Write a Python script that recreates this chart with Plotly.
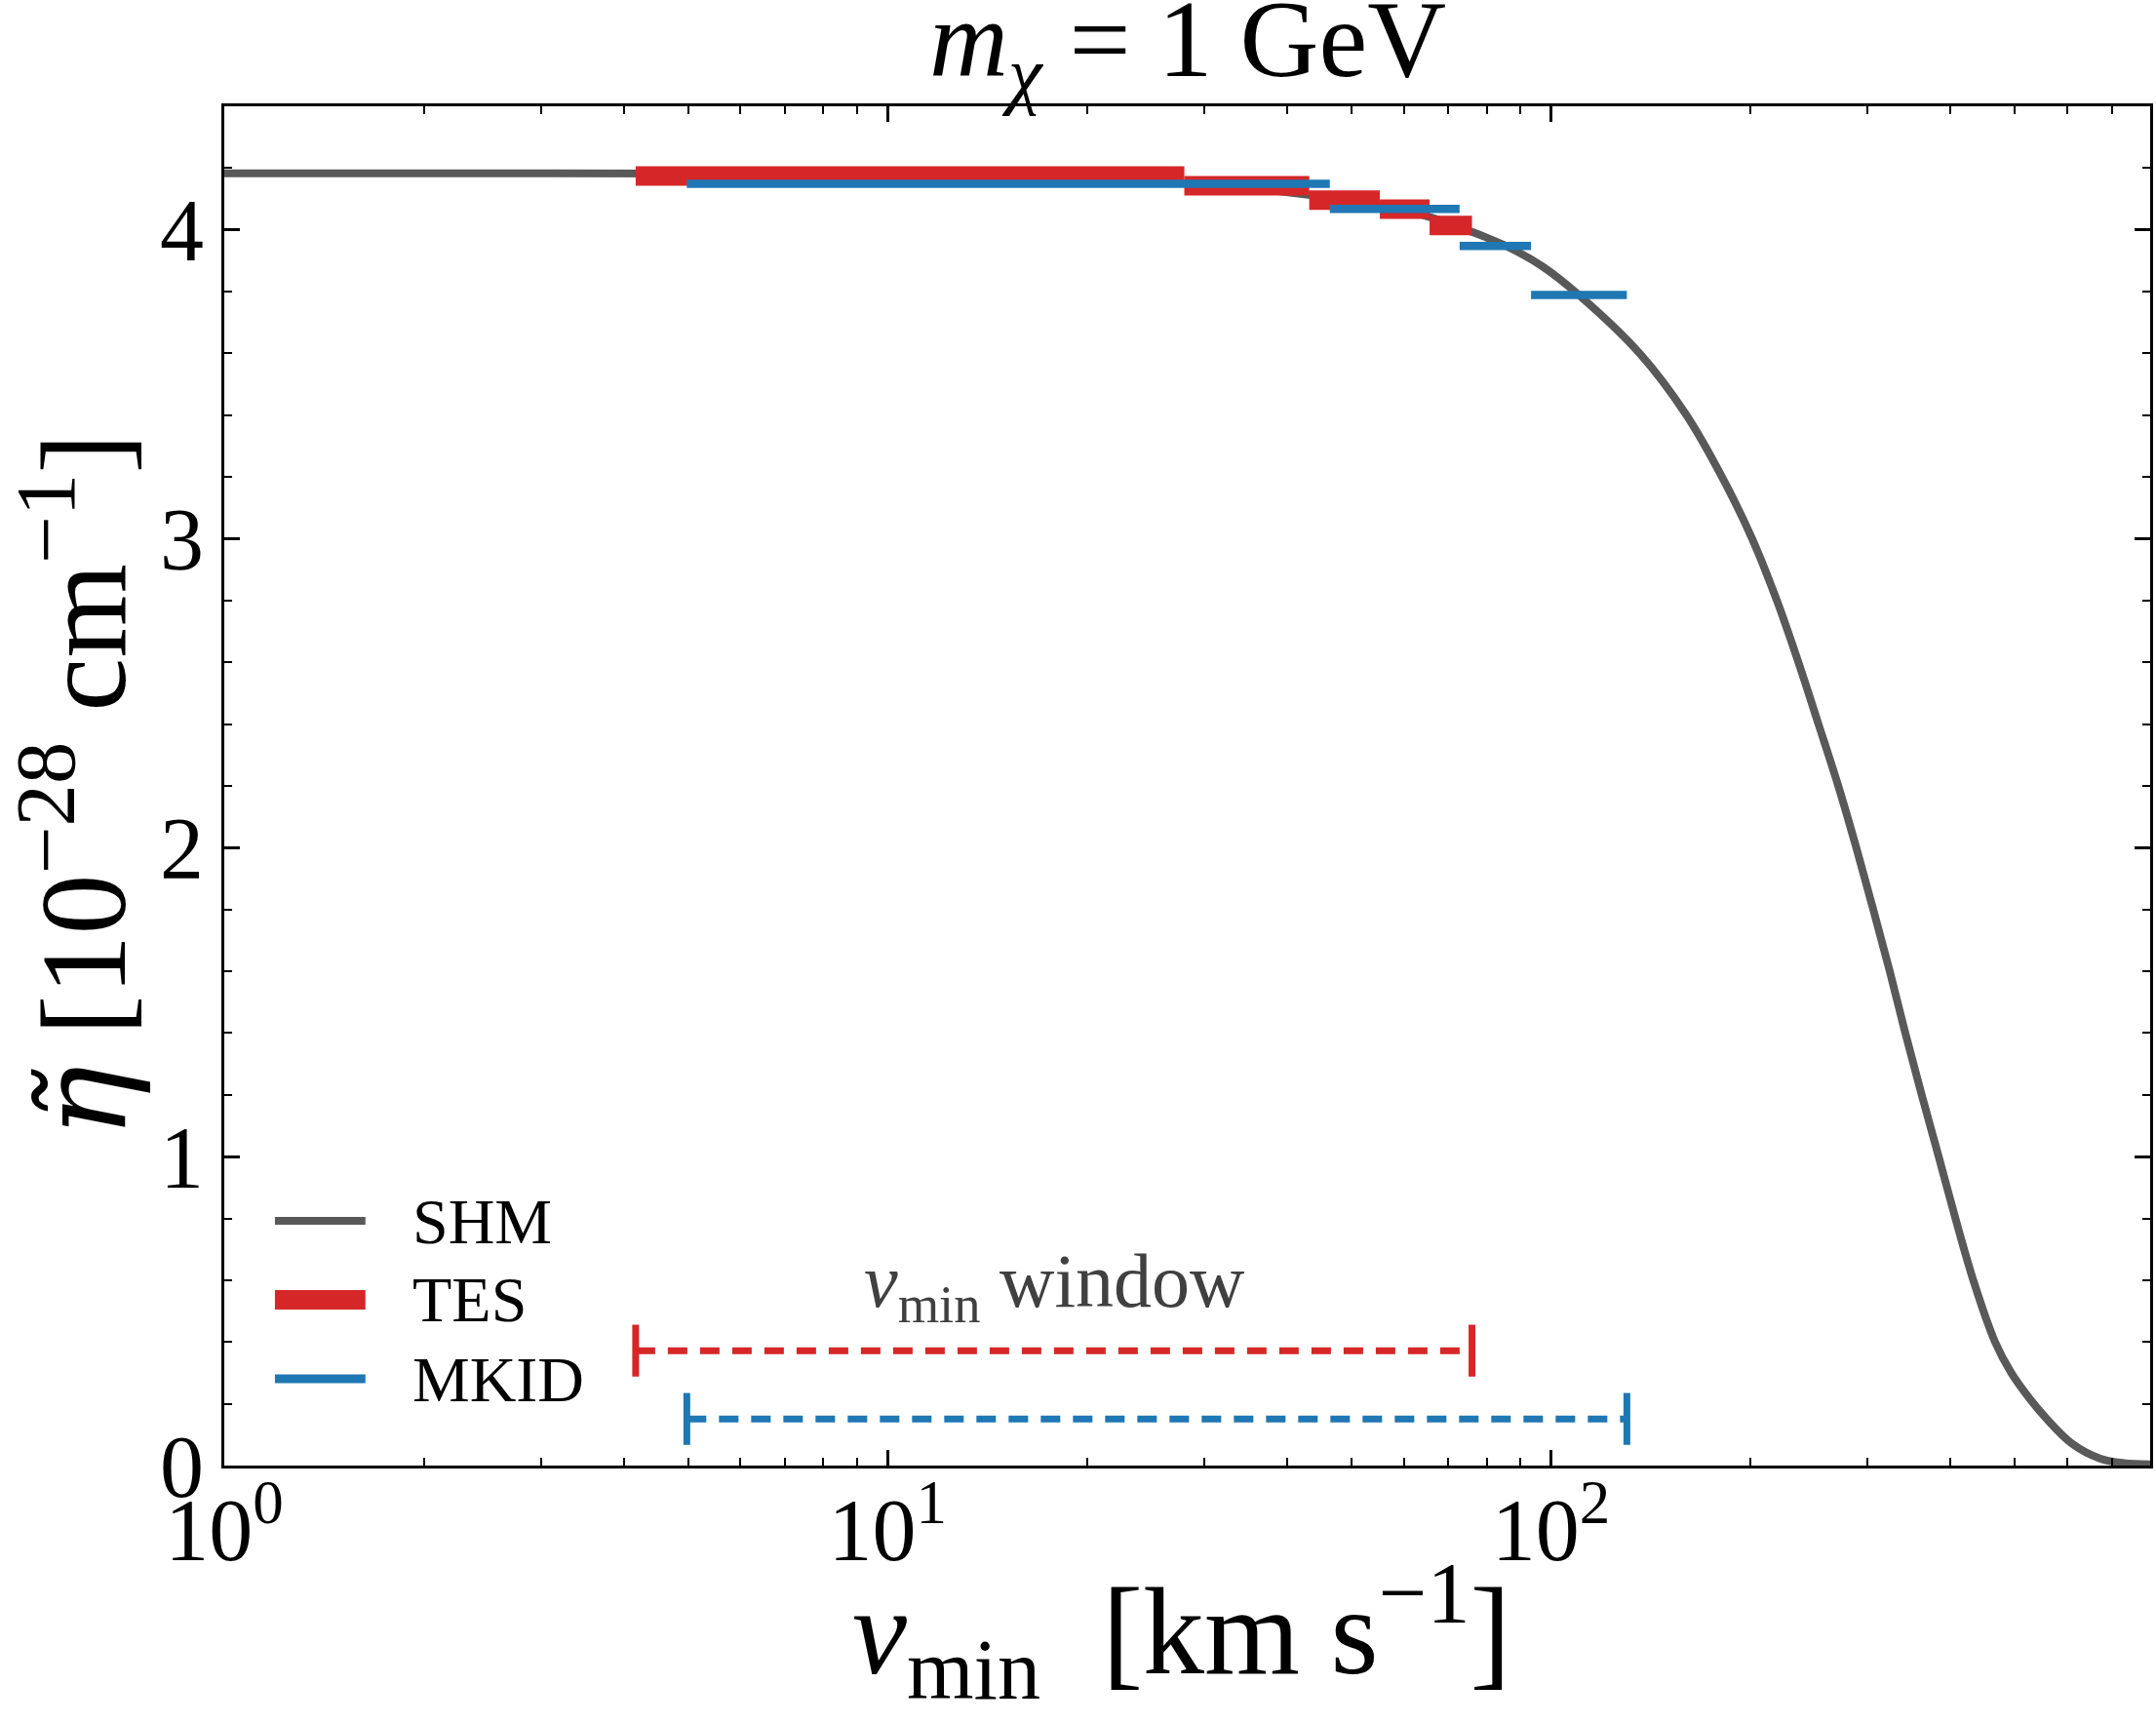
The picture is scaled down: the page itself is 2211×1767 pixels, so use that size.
import numpy as np
import plotly.graph_objects as go

# ---------------- data ----------------
shm_v = [1, 2, 5, 10, 15, 20, 30, 44, 55, 66, 75.2, 85.5, 97, 110, 136,
         160, 181, 201, 219, 236, 253, 271, 288.5, 306, 324, 342, 362, 384,
         407, 433, 467, 494, 525, 556, 610, 672, 730, 800]
shm_eta = [4.183, 4.183, 4.182, 4.179, 4.174, 4.166, 4.147, 4.111, 4.080, 4.040,
           3.997, 3.948, 3.882, 3.790, 3.600, 3.400, 3.200, 3.000, 2.800, 2.600,
           2.400, 2.200, 2.000, 1.800, 1.600, 1.400, 1.200, 1.000, 0.800, 0.600,
           0.400, 0.300, 0.220, 0.156, 0.071, 0.023, 0.008, 0.004]

tes_edges = [4.17, 28.0, 43.2, 55.2, 65.6, 76.0]
tes_eta = [4.174, 4.143, 4.096, 4.067, 4.014]

mkid_edges = [4.98, 46.4, 72.8, 93.3, 130.1]
mkid_eta = [4.149, 4.068, 3.948, 3.789]

tes_window = [4.17, 76.0]
mkid_window = [4.98, 130.1]
tes_window_level = 0.372
mkid_window_level = 0.151

x_tickvals = [1, 10, 100]
x_ticktext = ["10<sup>0</sup>", "10<sup>1</sup>", "10<sup>2</sup>"]
x_minor = [m * d for d in (1, 10, 100) for m in range(2, 10) if m * d <= 800]
y_tickvals = [0, 1, 2, 3, 4]
y_ticktext = ["0", "1", "2", "3", "4"]

legend_names = ["SHM", "TES", "MKID"]

# ---------------- style ----------------
FONT = "Liberation Serif"
GRAY = "#595959"
RED = "#d62728"
BLUE = "#1f77b4"


def steps(edges, vals):
    xs, ys = [], []
    for i, v in enumerate(vals):
        xs += [edges[i], edges[i + 1], None]
        ys += [v, v, None]
    return xs, ys


fig = go.Figure()

fig.add_trace(go.Scatter(x=shm_v, y=shm_eta, mode="lines",
                         line=dict(color=GRAY, width=8, shape="spline", smoothing=1.0),
                         name="SHM", showlegend=False, hoverinfo="skip"))

tx, ty = steps(tes_edges, tes_eta)
fig.add_trace(go.Scatter(x=tx, y=ty, mode="lines", line=dict(color=RED, width=20),
                         name="TES", showlegend=False, hoverinfo="skip"))
mx, my = steps(mkid_edges, mkid_eta)
fig.add_trace(go.Scatter(x=mx, y=my, mode="lines", line=dict(color=BLUE, width=8.5),
                         name="MKID", showlegend=False, hoverinfo="skip"))

for win, lvl, col in ((tes_window, tes_window_level, RED),
                      (mkid_window, mkid_window_level, BLUE)):
    fig.add_trace(go.Scatter(x=win, y=[lvl, lvl], mode="lines",
                             line=dict(color=col, width=7, dash="20px,13px"),
                             showlegend=False, hoverinfo="skip"))
    fig.add_trace(go.Scatter(x=win, y=[lvl, lvl], mode="markers",
                             marker=dict(symbol="line-ns", size=38, color=col,
                                         line=dict(color=col, width=7)),
                             showlegend=False, hoverinfo="skip"))

axis_common = dict(showline=True, linecolor="black", linewidth=3, mirror="allticks",
                   ticks="inside", tickcolor="black", tickwidth=2.5, ticklen=16,
                   showgrid=False, zeroline=False,
                   tickfont=dict(family=FONT, size=90, color="black"))

fig.update_layout(
    width=2211, height=1767,
    margin=dict(l=230, r=3, t=109, b=264),
    paper_bgcolor="white", plot_bgcolor="white",
    showlegend=False,
    xaxis=dict(type="log", range=[0, np.log10(800)], tickvals=x_tickvals, ticktext=x_ticktext,
               ticklabelstandoff=-14,
               minor=dict(tickvals=x_minor, ticks="inside", ticklen=8, tickwidth=2,
                          tickcolor="black", showgrid=False),
               **axis_common),
    yaxis=dict(range=[0, 4.4], tickvals=y_tickvals, ticktext=y_ticktext,
               ticklabelstandoff=0,
               minor=dict(dtick=0.2, tick0=0, ticks="inside", ticklen=8, tickwidth=2,
                          tickcolor="black", showgrid=False),
               **axis_common),
)

annotations = [
    dict(text="<i>m</i><sub><i>χ</i></sub> = 1 GeV", x=0.5, y=1, xref="paper", yref="paper",
         xanchor="center", yanchor="bottom", showarrow=False, yshift=-12,
         font=dict(family=FONT, size=112, color="black")),
    dict(text="<i>v</i><sub>min</sub>  [km s<sup>−1</sup>]", x=0.5, y=0, xref="paper", yref="paper",
         xanchor="center", yanchor="top", showarrow=False, yshift=-79, xshift=-6,
         font=dict(family=FONT, size=126, color="black")),
    dict(text="<span style=\"font-family:'DejaVu Serif'\"><i>η̃</i></span> [10<sup>−28</sup> cm<sup>−1</sup>]",
         x=0, y=0.5, xref="paper", yref="paper",
         xanchor="center", yanchor="middle", textangle=-90, showarrow=False, xshift=-152,
         font=dict(family=FONT, size=124, color="black")),
    dict(text="<i>v</i><sub>min</sub> window", x=float(np.mean(np.log10(tes_window))), y=0.58,
         xref="x", yref="y", xanchor="center", yanchor="middle", showarrow=False,
         font=dict(family=FONT, size=78, color="#404040")),
]

# manual legend (long line samples as in the reference)
leg_y = [0.180, 0.122, 0.0638]
leg_col = [GRAY, RED, BLUE]
leg_w = [8, 20, 9]
shapes = []
for name, yy, col, w in zip(legend_names, leg_y, leg_col, leg_w):
    shapes.append(dict(type="line", xref="paper", yref="paper", x0=0.0263, x1=0.0733,
                       y0=yy, y1=yy, line=dict(color=col, width=w)))
    annotations.append(dict(text=name, x=0.0966, y=yy, xref="paper", yref="paper",
                            xanchor="left", yanchor="middle", showarrow=False,
                            font=dict(family=FONT, size=66, color="black")))

fig.update_layout(annotations=annotations, shapes=shapes)

fig.write_html("out.html")
